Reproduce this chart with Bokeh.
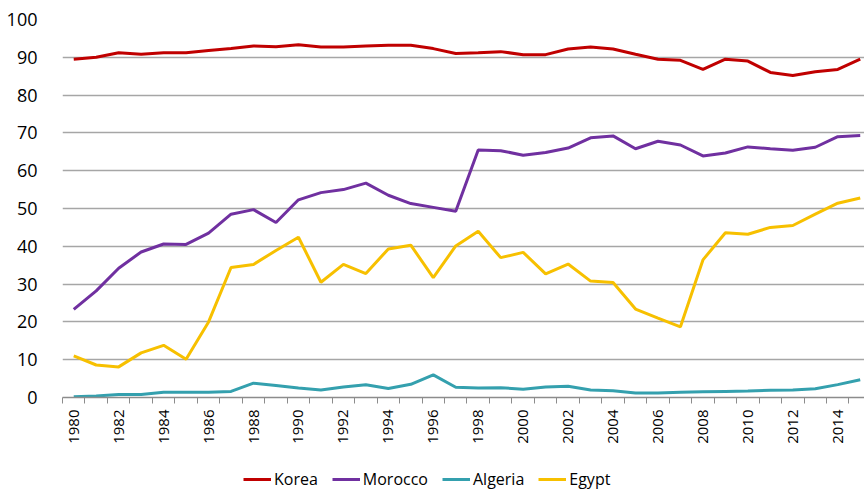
import math
from bokeh.plotting import figure
from bokeh.layouts import column
from bokeh.models import Range1d, FixedTicker, Legend, LegendItem
from bokeh.embed import file_html
from bokeh.resources import INLINE

years = list(range(1980, 2016))
korea = [89.5, 90.0, 91.2, 90.8, 91.2, 91.2, 91.8, 92.3, 93.0, 92.8, 93.3, 92.7, 92.7, 93.0, 93.2, 93.2,
         92.3, 91.0, 91.2, 91.5, 90.7, 90.7, 92.2, 92.7, 92.2, 90.8, 89.5, 89.2, 86.8, 89.5, 89.0, 86.0,
         85.2, 86.2, 86.8, 89.5]
morocco = [23.3, 28.2, 34.2, 38.5, 40.6, 40.5, 43.5, 48.5, 49.7, 46.3, 52.3, 54.2, 55.0, 56.7, 53.5, 51.3,
           50.3, 49.3, 65.5, 65.3, 64.1, 64.8, 66.0, 68.7, 69.2, 65.8, 67.8, 66.8, 63.9, 64.7, 66.3, 65.8,
           65.4, 66.2, 69.0, 69.3]
algeria = [0.2, 0.4, 0.8, 0.8, 1.4, 1.4, 1.4, 1.6, 3.8, 3.2, 2.5, 2.0, 2.8, 3.4, 2.4, 3.5,
           6.0, 2.7, 2.5, 2.6, 2.2, 2.8, 3.0, 2.0, 1.8, 1.2, 1.2, 1.4, 1.5, 1.6, 1.7, 1.9,
           2.0, 2.3, 3.4, 4.7]
egypt = [11.0, 8.6, 8.1, 11.8, 13.8, 10.1, 20.0, 34.4, 35.2, 38.9, 42.4, 30.5, 35.2, 32.8, 39.3, 40.3,
         31.7, 40.1, 44.0, 37.0, 38.4, 32.7, 35.3, 30.8, 30.4, 23.4, 21.0, 18.7, 36.4, 43.6, 43.2, 45.0,
         45.5, 48.5, 51.4, 52.8]
y_ticks = [0, 10, 20, 30, 40, 50, 60, 70, 80, 90, 100]
series = [("Korea", korea, "#C00000"), ("Morocco", morocco, "#7030A0"),
          ("Algeria", algeria, "#34A0AE"), ("Egypt", egypt, "#F7C000")]

p = figure(width=864, height=468, output_backend="svg", toolbar_location=None,
           x_range=Range1d(1979.5, 2015.19), y_range=Range1d(0, 100),
           min_border_left=62, min_border_right=0, min_border_top=19, min_border_bottom=71)
p.outline_line_color = None
p.background_fill_color = "white"
p.border_fill_color = "white"

p.xaxis.ticker = FixedTicker(ticks=[y for y in years if y % 2 == 0],
                             minor_ticks=[y - 0.5 for y in years] + [2015.5])
p.xaxis.major_tick_out = 0
p.xaxis.major_tick_in = 0
p.xaxis.minor_tick_out = 6
p.xaxis.minor_tick_in = 0
p.xaxis.minor_tick_line_color = "#8c8c8c"
p.xaxis.axis_line_color = "#8c8c8c"
p.xaxis.axis_line_width = 1.5
p.xaxis.major_label_orientation = math.pi / 2
p.xaxis.major_label_text_font = "Open Sans"
p.xaxis.major_label_text_font_size = "15px"
p.xaxis.major_label_text_color = "#000000"
p.xaxis.major_label_standoff = 6
p.xgrid.grid_line_color = None

p.yaxis.ticker = FixedTicker(ticks=y_ticks)
p.yaxis.axis_line_color = None
p.yaxis.major_tick_line_color = None
p.yaxis.minor_tick_line_color = None
p.yaxis.major_label_text_font = "Open Sans"
p.yaxis.major_label_text_font_size = "18px"
p.yaxis.major_label_text_color = "#000000"
p.yaxis.major_label_standoff = 19
p.ygrid.grid_line_color = "#a6a6a6"
p.ygrid.grid_line_width = 1.5

for name, vals, col in series:
    p.line(years, vals, line_color=col, line_width=3)

# legend strip below the chart (its lines lie outside its own ranges)
lp = figure(width=864, height=23, output_backend="svg", toolbar_location=None,
            x_range=Range1d(0, 1), y_range=Range1d(0, 1),
            min_border_left=0, min_border_right=0, min_border_top=0, min_border_bottom=0)
lp.axis.visible = False
lp.grid.grid_line_color = None
lp.outline_line_color = None
items = []
for name, vals, col in series:
    r = lp.line(years, vals, line_color=col, line_width=3)
    items.append(LegendItem(label=name, renderers=[r]))
legend = Legend(items=items, orientation="horizontal", location=(181, 1),
                label_text_font="Open Sans", label_text_font_size="16px",
                label_text_color="#000000", glyph_width=28, glyph_height=14,
                label_standoff=3, spacing=14, padding=0, margin=0,
                border_line_color=None, background_fill_alpha=0)
lp.add_layout(legend, "center")

layout = column(p, lp, spacing=0)
open("out.html", "w").write(file_html(layout, INLINE))
